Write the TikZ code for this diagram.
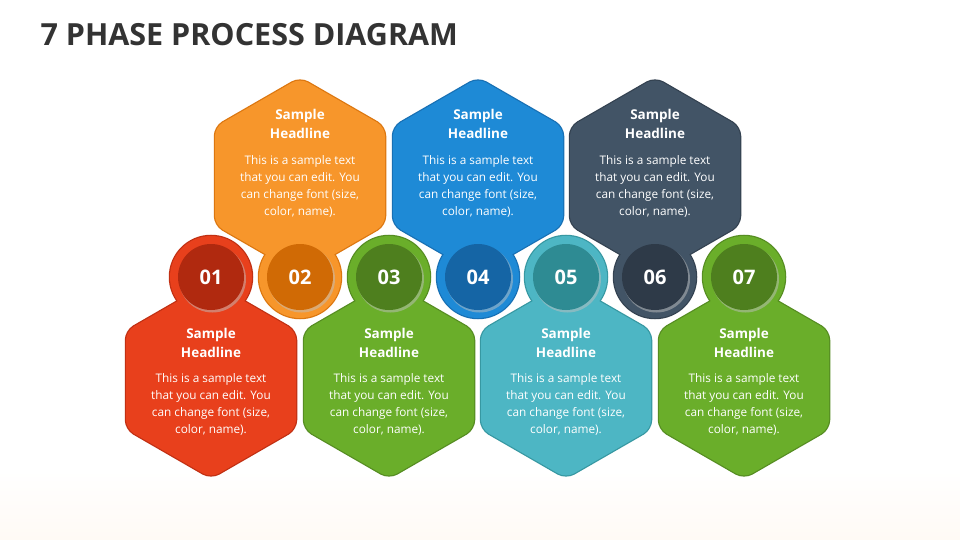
\documentclass[tikz,border=0pt]{standalone}
\usepackage{fontspec}
\setmainfont{Open Sans}
\begin{document}
\begin{tikzpicture}[x=1pt,y=-1pt,
  hd/.style={font=\bfseries\fontsize{13.5}{19}\selectfont,text=white,align=center},
  bd/.style={font=\fontsize{11.8}{17}\selectfont,text=white,align=center},
  num/.style={font=\bfseries\fontsize{20}{20}\selectfont,text=white}]
\fill[white!97!orange!60] (0,0) rectangle (960,540);
\fill[white] (0,0) rectangle (960,470);
\shade[top color=white,bottom color=orange!4] (0,470) rectangle (960,540);
\useasboundingbox (0,0) rectangle (960,540);
\node[anchor=west,font=\bfseries\fontsize{30.5}{34}\selectfont,text=black!80] (title) at (37,35) {7 PHASE PROCESS DIAGRAM};
\foreach \i/\cx/\cy/\cyc/\hy/\by/\main/\dark in {
  1/211/380/277/343/404/E8401C/B0290F,
  2/300/176/277/124/186/F7962B/D06A05,
  3/389/380/277/343/404/6AAE2A/4E7F1E,
  4/478/176/277/124/186/1E8AD6/1565A5,
  5/566/380/277/343/404/4DB6C4/2E8B93,
  6/655/176/277/124/186/425466/2E3A48,
  7/744/380/277/343/404/6AAE2A/4E7F1E}{
  \definecolor{mc}{HTML}{\main}\definecolor{dc}{HTML}{\dark}
  \draw[line width=2.5pt,draw=dc!70!mc,rounded corners=9pt]
    (\cx,\cy-98)--(\cx+85,\cy-49)--(\cx+85,\cy+49)--(\cx,\cy+98)--(\cx-85,\cy+49)--(\cx-85,\cy-49)--cycle;
  \draw[line width=2.5pt,draw=dc!70!mc] (\cx,\cyc) circle (41);
  \fill[mc,rounded corners=9pt]
    (\cx,\cy-98)--(\cx+85,\cy-49)--(\cx+85,\cy+49)--(\cx,\cy+98)--(\cx-85,\cy+49)--(\cx-85,\cy-49)--cycle;
  \fill[mc] (\cx,\cyc) circle (41);
  \fill[black!25,opacity=0.5] (\cx+1.5,\cyc+2) circle (33.5);
  \node[circle,fill=dc,minimum size=66pt,inner sep=0pt] (c\i) at (\cx,\cyc) {};
  \node[num] (n\i) at (\cx,\cyc) {0\i};
  \node[hd] (h\i) at (\cx,\hy) {Sample\\Headline};
  \node[bd] (b\i) at (\cx,\by) {This is a sample text\\that you can edit. You\\can change font (size,\\color, name).};
}
\end{tikzpicture}
\end{document}
